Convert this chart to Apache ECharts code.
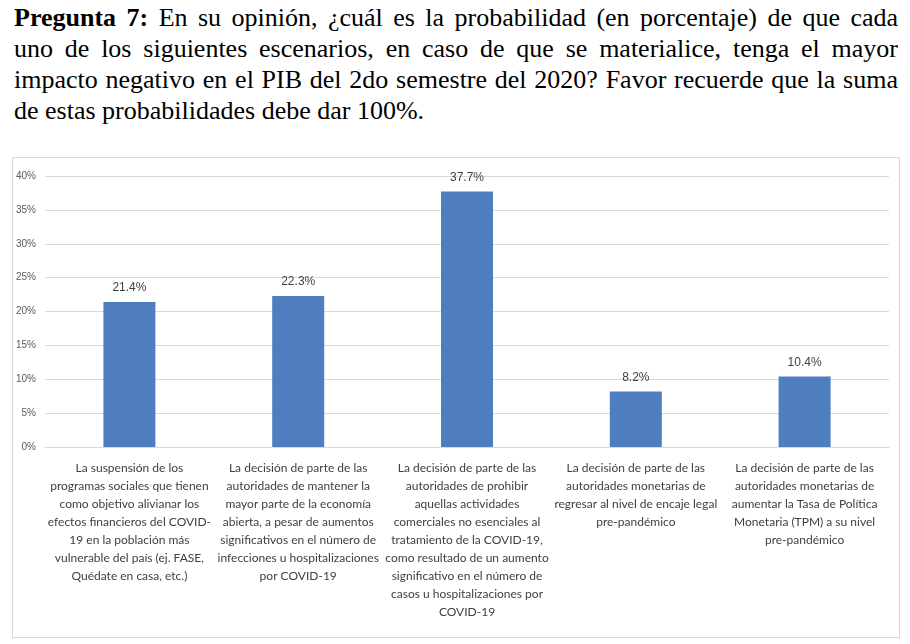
<!DOCTYPE html>
<html>
<head>
<meta charset="utf-8">
<script src="https://cdn.jsdelivr.net/npm/echarts@6/dist/echarts.min.js"></script>
<style>
  body { margin: 0; background: #fff; width: 910px; height: 644px; overflow: hidden; position: relative; }
  #question {
    position: absolute; left: 14px; top: 2px; width: 884px;
    font-family: "Liberation Serif", "Times New Roman", serif;
    font-size: 26px; line-height: 31px; color: #000;
  }
  #question .ln { text-align: justify; text-align-last: justify; white-space: nowrap; }
  #question .ln.last { text-align: left; text-align-last: left; }
  #chart {
    position: absolute; left: 12px; top: 157px; width: 886px; height: 479px;
    border: 1px solid #d9d9d9;
  }
</style>
</head>
<body>
<div id="question">
  <div class="ln"><b>Pregunta 7:</b> En su opinión, ¿cuál es la probabilidad (en porcentaje) de que cada</div>
  <div class="ln">uno de los siguientes escenarios, en caso de que se materialice, tenga el mayor</div>
  <div class="ln">impacto negativo en el PIB del 2do semestre del 2020? Favor recuerde que la suma</div>
  <div class="ln last">de estas probabilidades debe dar 100%.</div>
</div>
<div id="chart"></div>
<script>
// escenarios (eje x)
const categories = [
  "La suspensión de los\nprogramas sociales que tienen\ncomo objetivo alivianar los\nefectos financieros del COVID-\n19 en la población más\nvulnerable del país (ej. FASE,\nQuédate en casa, etc.)",
  "La decisión de parte de las\nautoridades de mantener la\nmayor parte de la economía\nabierta, a pesar de aumentos\nsignificativos en el número de\ninfecciones u hospitalizaciones\npor COVID-19",
  "La decisión de parte de las\nautoridades de prohibir\naquellas actividades\ncomerciales no esenciales al\ntratamiento de la COVID-19,\ncomo resultado de un aumento\nsignificativo en el número de\ncasos u hospitalizaciones por\nCOVID-19",
  "La decisión de parte de las\nautoridades monetarias de\nregresar al nivel de encaje legal\npre-pandémico",
  "La decisión de parte de las\nautoridades monetarias de\naumentar la Tasa de Política\nMonetaria (TPM) a su nivel\npre-pandémico"
];
// probabilidad (%)
const values = [21.4, 22.3, 37.7, 8.2, 10.4];
const yMin = 0, yMax = 40, yStep = 5;

const chart = echarts.init(document.getElementById("chart"));
const option = {
  animation: false,
  grid: { left: 32, right: 10, top: 18, bottom: 190 },
  xAxis: {
    type: "category",
    data: categories,
    axisLine: { lineStyle: { color: "#d9d9d9" } },
    axisTick: { show: false },
    axisLabel: {
      interval: 0,
      margin: 12,
      color: "#404040",
      fontFamily: "Lato, 'Open Sans', sans-serif",
      fontSize: 12,
      lineHeight: 18
    }
  },
  yAxis: {
    type: "value",
    min: yMin,
    max: yMax,
    interval: yStep,
    axisLine: { show: false },
    axisTick: { show: false },
    splitLine: { lineStyle: { color: "#d9d9d9" } },
    axisLabel: {
      formatter: "{value}%",
      color: "#595959",
      fontFamily: "'Liberation Sans', Arial, sans-serif",
      fontSize: 10,
      margin: 9
    }
  },
  series: [
    {
      type: "bar",
      data: values,
      barWidth: 52,
      itemStyle: { color: "#4e7ebf" },
      label: {
        show: true,
        position: "top",
        distance: 8,
        formatter: p => p.value.toFixed(1) + "%",
        color: "#404040",
        fontFamily: "'Liberation Sans', Arial, sans-serif",
        fontSize: 12
      }
    }
  ]
};
chart.setOption(option);
</script>
</body>
</html>
